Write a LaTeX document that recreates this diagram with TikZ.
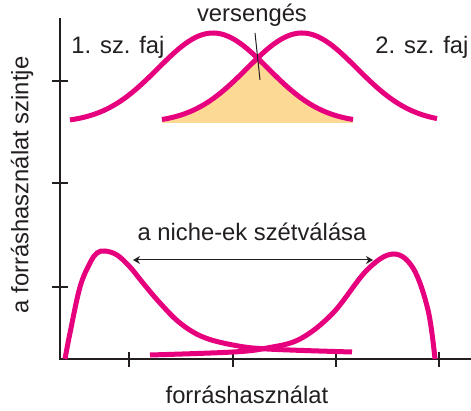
\documentclass[tikz,border=0pt]{standalone}
\usepackage{fontspec}
\setmainfont{Liberation Sans}
\usepackage{tikz}
\usetikzlibrary{arrows.meta,positioning,calc}
\definecolor{cMag}{HTML}{E6007E}
\definecolor{cSand}{HTML}{FDDA94}
\definecolor{cInk}{HTML}{231F20}
% bell curve of the top panel, centre #1
\pgfmathdeclarefunction{bell}{2}{\pgfmathparse{123-90*exp(-0.5*((#1-#2)/55)^2)}}

\begin{document}
\begin{tikzpicture}[
    x=0.5pt, y=-0.5pt,
    font=\fontsize{11.9}{14}\selectfont,
    >={Stealth[length=3.5pt,width=4pt]},
    axis/.style={draw=cInk, line width=1.2pt},
    tick/.style={draw=cInk, line width=1pt},
    curve/.style={draw=cMag, line width=2.5pt},
    lbl/.style={text=cInk, inner sep=1pt},
    pointer/.style={draw=cInk, line width=0.5pt}]

    \useasboundingbox (0,0) rectangle (471,411);

    % axes
    \draw[axis] (60,18) -- (60,359) -- (471,359);
    \foreach \y in {81,183,287} \draw[tick] (52,\y) -- (68,\y);
    \foreach \x in {129,233,336,439} \draw[tick] (\x,352) -- (\x,367);

    \node[lbl, rotate=90] (ylab) at (22,185) {a forráshasználat szintje};
    \node[lbl] (xlab) at (247,395) {forráshasználat};

    % top: overlapping niches
    \fill[cSand] (162,123)
      -- plot[domain=162:257.5, samples=40] (\x,{bell(\x,302)})
      -- plot[domain=257.5:353, samples=40] (\x,{bell(\x,213)})
      -- (353,123) -- cycle;
    \draw[curve] plot[domain=70:353, samples=80] (\x,{bell(\x,213)});
    \draw[curve] plot[domain=162:437, samples=80] (\x,{bell(\x,302)});

    \node[lbl] (sp1) at (118,47) {1. sz. faj};
    \node[lbl] (sp2) at (422,47) {2. sz. faj};
    \node[lbl] (comp) at (252,15) {versengés};
    \coordinate (compA) at (255,33);
    \coordinate (compB) at (260,80);
    \draw[pointer] (compA) -- (compB);

    % bottom: separated niches
    \draw[curve] plot[smooth, tension=0.6] coordinates {
      (65,359) (70,333) (80,287) (90,263) (97,253) (105,251) (117,255)
      (130,267) (143,283) (160,303) (180,323) (203,337) (233,345)
      (267,349) (352,352)};
    \draw[curve] plot[smooth, tension=0.6] coordinates {
      (150,355) (233,352) (267,348) (300,339) (333,313) (367,270)
      (393,254) (413,268) (428,310) (435,359)};

    \coordinate (sepL) at (133,260);
    \coordinate (sepR) at (373,260);
    \draw[pointer, <->] (sepL) -- (sepR);
    \node[lbl] (sep) at (252,232) {a niche-ek szétválása};
\end{tikzpicture}
\end{document}
